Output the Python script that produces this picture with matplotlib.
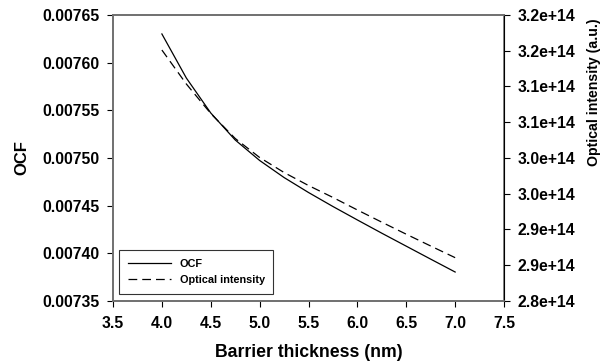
import numpy as np
import matplotlib
matplotlib.use("Agg")
import matplotlib.pyplot as plt

# barrier thickness (nm)
thickness = [4.0, 4.25, 4.5, 4.75, 5.0, 5.25, 5.5, 5.75, 6.0, 6.25, 6.5, 6.75, 7.0]
# optical confinement factor (left axis)
ocf = [0.0076301, 0.0075839, 0.0075472, 0.0075189, 0.0074974, 0.0074795, 0.0074638,
       0.0074491, 0.0074350, 0.0074211, 0.0074075, 0.0073939, 0.0073804]
# optical intensity (right axis)
intensity = [3.1510e14, 3.1035e14, 3.0622e14, 3.0273e14, 3.0007e14, 2.9797e14, 2.9615e14,
             2.9448e14, 2.9273e14, 2.9102e14, 2.8934e14, 2.8769e14, 2.8606e14]

x_ticks = [3.5, 4.0, 4.5, 5.0, 5.5, 6.0, 6.5, 7.0, 7.5]
ocf_ticks = [0.00735, 0.00740, 0.00745, 0.00750, 0.00755, 0.00760, 0.00765]
int_ticks = [2.80e14, 2.85e14, 2.90e14, 2.95e14, 3.00e14, 3.05e14, 3.10e14, 3.15e14, 3.20e14]
int_tick_labels = ["2.8e+14", "2.9e+14", "2.9e+14", "3.0e+14", "3.0e+14",
                   "3.1e+14", "3.1e+14", "3.2e+14", "3.2e+14"]

plt.rcParams['font.family'] = ['Liberation Sans', 'DejaVu Sans']
plt.rcParams['font.weight'] = 'bold'

fig = plt.figure(figsize=(6.05, 3.62), dpi=100)
ax = fig.add_axes([0.1868, 0.1685, 0.6463, 0.7901])
ax2 = ax.twinx()

l1, = ax.plot(thickness, ocf, color='black', lw=0.9, label='OCF')
l2, = ax2.plot(thickness, intensity, color='black', lw=0.9, linestyle=(0, (7, 4)),
               label='Optical intensity')

ax.set_xlim(3.5, 7.5)
ax.set_ylim(0.00735, 0.00765)
ax2.set_ylim(2.8e14, 3.2e14)

ax.set_xticks(x_ticks)
ax.set_xticklabels([f"{v:.1f}" for v in x_ticks])
ax.set_yticks(ocf_ticks)
ax.set_yticklabels([f"{v:.5f}" for v in ocf_ticks])
ax2.set_yticks(int_ticks)
ax2.set_yticklabels(int_tick_labels)

for a in (ax, ax2):
    a.tick_params(labelsize=11.3, length=4, width=0.8, direction='out', pad=6)
    for s in a.spines.values():
        s.set_color('#707070')
        s.set_linewidth(1.2)
ax.tick_params(axis='x', pad=7)
ax2.spines['right'].set_color('black')
ax2.spines['right'].set_linewidth(0.8)

ax.set_xlabel('Barrier thickness (nm)', fontsize=12.7, fontweight='bold', labelpad=9)
ax.set_ylabel('OCF', fontsize=12, fontweight='bold', labelpad=9)
ax2.set_ylabel('Optical intensity (a.u.)', fontsize=10.2,
               family=['Liberation Sans Narrow', 'Liberation Sans'],
               fontweight='bold')
# the right label sits high, as in the original
ax2.yaxis.set_label_coords(1.212, 0.731)

leg = ax.legend(handles=[l1, l2], loc='lower left', bbox_to_anchor=(0.015, 0.025),
                borderaxespad=0, fontsize=7.8, frameon=True, fancybox=False,
                borderpad=0.8, handlelength=4.0, labelspacing=0.6)
leg.get_frame().set_edgecolor('black')
leg.get_frame().set_linewidth(0.8)

fig.savefig('out.png', dpi=100)
